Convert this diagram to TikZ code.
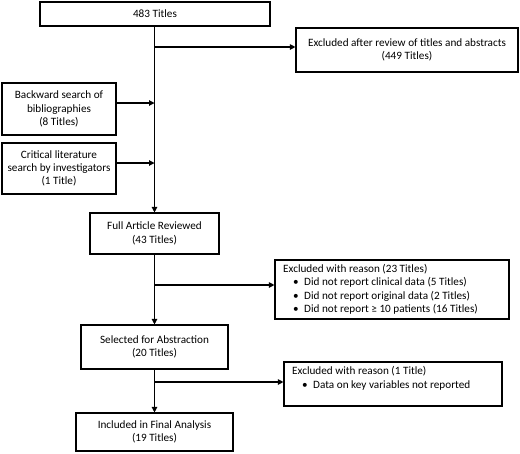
\documentclass[tikz,border=0pt]{standalone}
\usepackage{fontspec}
\setmainfont{Carlito}
\usetikzlibrary{arrows.meta}
\begin{document}
\begin{tikzpicture}[x=1pt,y=-1pt,
  box/.style={draw, line width=1.1pt, inner sep=0pt, align=center, font=\fontsize{11.2}{13.3}\selectfont},
  txt/.style={inner sep=0pt, align=left, anchor=base west, font=\fontsize{11.2}{13.3}\selectfont},
  arr/.style={line width=1.1pt, -{Triangle[length=5.5pt,width=5.5pt]}}]
\useasboundingbox (0,0) rectangle (520,453);
\node[box, minimum width=230pt, minimum height=24pt] (t) at (155,14) {483 Titles};
\node[box, minimum width=222pt, minimum height=44pt] (ex1) at (407,50) {Excluded after review of titles and abstracts\\(449 Titles)};
\node[box, minimum width=114pt, minimum height=52pt] (bw) at (59,109) {Backward search of\\bibliographies\\(8 Titles)};
\node[box, minimum width=114pt, minimum height=51pt] (cr) at (59,168.5) {Critical literature\\search by investigators\\(1 Title)};
\node[box, minimum width=129pt, minimum height=41pt] (fa) at (154.5,233.5) {Full Article Reviewed\\(43 Titles)};
\node[box, minimum width=234pt, minimum height=59pt] (ex23) at (392,289.5) {};
\node[box, minimum width=147pt, minimum height=44pt] (sel) at (154.5,347) {Selected for Abstraction\\(20 Titles)};
\node[box, minimum width=218pt, minimum height=44pt] (ex2) at (393,384) {};
\node[box, minimum width=157pt, minimum height=38pt] (inc) at (154.5,432) {Included in Final Analysis\\(19 Titles)};
\node[txt] (ex23t) at (283,312.5) {Excluded with reason (23 Titles)\\
\hspace{10pt}\makebox[11pt][l]{•}Did not report clinical data (5 Titles)\\
\hspace{10pt}\makebox[11pt][l]{•}Did not report original data (2 Titles)\\
\hspace{10pt}\makebox[11pt][l]{•}Did not report ≥ 10 patients (16 Titles)};
\node[txt] (ex2t) at (292,388) {Excluded with reason (1 Title)\\
\hspace{10pt}\makebox[11pt][l]{•}Data on key variables not reported};
\coordinate (j1) at (154.5,47);
\coordinate (j2) at (154.5,103);
\coordinate (j3) at (154.5,163);
\coordinate (j4) at (154.5,285);
\coordinate (j5) at (154.5,382);
\draw[arr] (t.south -| fa.north) -- (fa.north);
\draw[arr] (j1) -- (j1 -| ex1.west);
\draw[arr] (bw.east |- j2) -- (j2);
\draw[arr] (cr.east |- j3) -- (j3);
\draw[arr] (fa.south) -- (sel.north);
\draw[arr] (j4) -- (j4 -| ex23.west);
\draw[arr] (sel.south) -- (inc.north);
\draw[arr] (j5) -- (j5 -| ex2.west);
\end{tikzpicture}
\end{document}
